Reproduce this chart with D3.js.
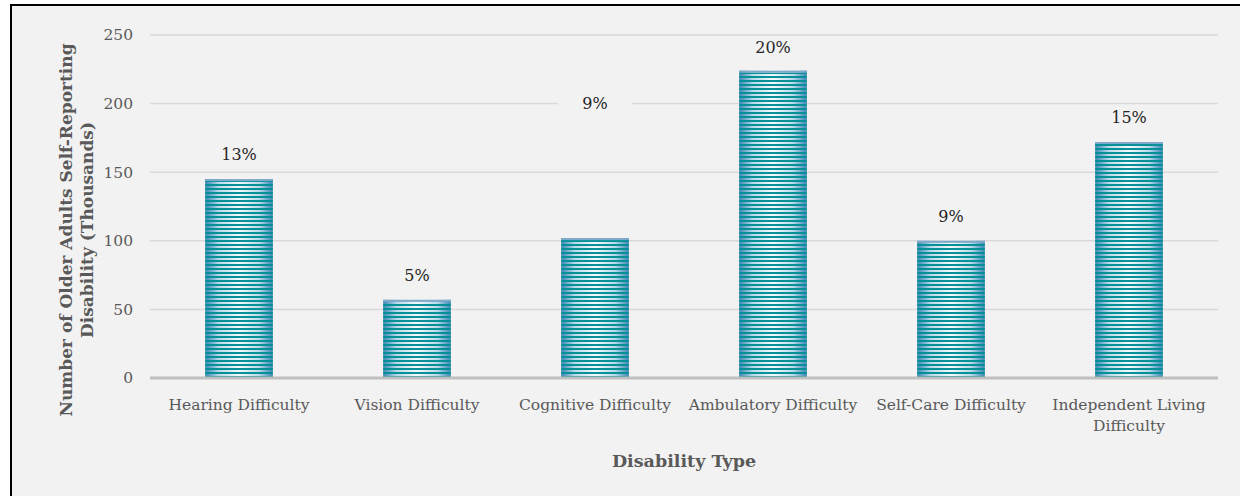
<!DOCTYPE html>
<html><head><meta charset="utf-8">
<script src="https://cdn.jsdelivr.net/npm/d3@7/dist/d3.min.js"></script>
<style>
html,body{margin:0;padding:0;background:#fff;}
svg{display:block;}
</style></head>
<body>
<svg id="chart" width="1240" height="496"></svg>
<script>
const categories = ["Hearing Difficulty","Vision Difficulty","Cognitive Difficulty","Ambulatory Difficulty","Self-Care Difficulty","Independent Living Difficulty"];
const categoryLines = [["Hearing Difficulty"],["Vision Difficulty"],["Cognitive Difficulty"],["Ambulatory Difficulty"],["Self-Care Difficulty"],["Independent Living","Difficulty"]];
const values = [145, 57, 102, 224, 100, 172];
const percentLabels = ["13%","5%","9%","20%","9%","15%"];
const labelValues = [163, 75, 200, 241, 118, 190];
const yTicks = [0,50,100,150,200,250];
const yTitle = ["Number of Older Adults Self-Reporting","Disability (Thousands)"];
const xTitle = "Disability Type";

const FONT = "'DejaVu Serif', serif";
const svg = d3.select("#chart");

// frame
svg.append("rect").attr("x",11).attr("y",5).attr("width",1400).attr("height",600)
  .attr("fill","#f2f2f2").attr("stroke","#000").attr("stroke-width",2);

const defs = svg.append("defs");
const grad = defs.append("linearGradient").attr("id","barGrad").attr("x1","0").attr("x2","1").attr("y1","0").attr("y2","0");
grad.append("stop").attr("offset","0").attr("stop-color","#3d86b8");
grad.append("stop").attr("offset","0.2").attr("stop-color","#b9d9ea");
grad.append("stop").attr("offset","0.5").attr("stop-color","#f4fafd");
grad.append("stop").attr("offset","0.8").attr("stop-color","#b9d9ea");
grad.append("stop").attr("offset","1").attr("stop-color","#3d86b8");
const pat = defs.append("pattern").attr("id","stripes").attr("patternUnits","userSpaceOnUse")
  .attr("width",10).attr("height",4);
pat.append("rect").attr("x",0).attr("y",0).attr("width",10).attr("height",2).attr("fill","#079196");

const x = d3.scaleBand().domain(categories).range([150,1218]).paddingInner(0.62).paddingOuter(0.31);
const y = d3.scaleLinear().domain([0,250]).range([378,35]);

// gridlines
svg.append("g").selectAll("line").data(yTicks.filter(d=>d>0)).join("line")
  .attr("x1",150).attr("x2",1218).attr("y1",d=>y(d)).attr("y2",d=>y(d))
  .attr("stroke","#d9d9d9").attr("stroke-width",1.5);

// y axis labels
const yAxis = d3.axisLeft(y).tickValues(yTicks).tickSize(0).tickPadding(17);
const yg = svg.append("g").attr("transform","translate(150,0)").call(yAxis);
yg.select(".domain").remove();
yg.selectAll("text").attr("font-family",FONT).attr("font-size",15.5).attr("fill","#595959");

// bars
const bars = svg.append("g");
categories.forEach((c,i)=>{
  const bx = x(c), bw = x.bandwidth(), by = y(values[i]), bh = y(0)-y(values[i]);
  bars.append("rect").attr("x",bx).attr("y",by).attr("width",bw).attr("height",bh).attr("fill","url(#barGrad)");
  bars.append("rect").attr("x",bx).attr("y",by+2).attr("width",bw).attr("height",bh-2).attr("fill","url(#stripes)");
  bars.append("rect").attr("x",bx).attr("y",by).attr("width",bw).attr("height",2).attr("fill","#7fa9c8");
});

// baseline
svg.append("line").attr("x1",150).attr("x2",1218).attr("y1",y(0)).attr("y2",y(0))
  .attr("stroke","#bfbfbf").attr("stroke-width",3);

// data labels
const lg = svg.append("g");
categories.forEach((c,i)=>{
  const cx = x(c)+x.bandwidth()/2, cy = y(labelValues[i]);
  lg.append("rect").attr("x",cx-37).attr("y",cy-11).attr("width",74).attr("height",22).attr("fill","#f2f2f2");
  lg.append("text").attr("x",cx).attr("y",cy).attr("dy","0.35em").attr("text-anchor","middle")
    .attr("font-family",FONT).attr("font-size",16).attr("fill","#262626").text(percentLabels[i]);
});

// category labels
const cg = svg.append("g");
categories.forEach((c,i)=>{
  const cx = x(c)+x.bandwidth()/2;
  const t = cg.append("text").attr("text-anchor","middle").attr("font-family",FONT).attr("font-size",15.5).attr("fill","#595959");
  categoryLines[i].forEach((ln,j)=>{
    t.append("tspan").attr("x",cx).attr("y",410+j*21).text(ln);
  });
});

// x title
svg.append("text").attr("x",684).attr("y",467).attr("text-anchor","middle")
  .attr("font-family",FONT).attr("font-size",17.5).attr("font-weight","bold").attr("fill","#595959").text(xTitle);

// y title
const yt = svg.append("text").attr("transform","translate(0,230) rotate(-90)").attr("text-anchor","middle")
  .attr("font-family",FONT).attr("font-size",17).attr("font-weight","bold").attr("fill","#595959");
yTitle.forEach((ln,j)=>{
  yt.append("tspan").attr("x",0).attr("y",72+j*21).text(ln);
});
</script>
</body></html>
